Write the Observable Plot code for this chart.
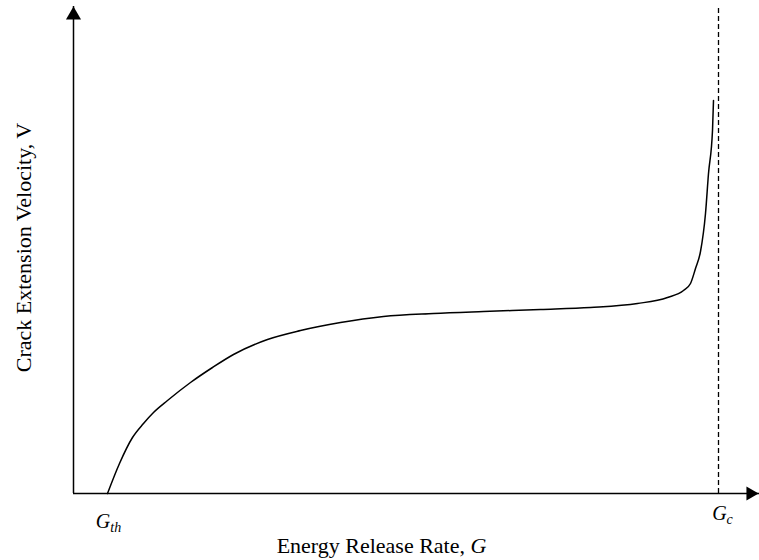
<!DOCTYPE html>
<html><head><meta charset="utf-8">
<script src="https://cdn.jsdelivr.net/npm/d3@7"></script>
<script src="https://cdn.jsdelivr.net/npm/@observablehq/plot@0.6"></script>
<style>body{margin:0;background:#fff;} svg{display:block;}</style>
</head><body><div id="chart"></div>
<script>
// Curve: energy release rate G (arbitrary units) vs crack extension velocity V (arbitrary units)
const G = [34, 46, 59, 70, 80, 94, 117, 139, 160, 194, 227, 267, 310, 360, 410, 467, 517, 564, 594, 610, 617, 622, 627, 632, 635, 639, 640];
const V = [0, 30, 56, 70, 81, 93, 111, 126, 139, 154, 163, 171, 177, 180, 182, 184, 186, 190, 196, 203, 210, 225, 242, 280, 320, 363, 393];
const Gth = 34;
const Gc = 645;
const xMax = 686;
const yMax = 487;
const dashTop = 485;
const xLabel = ["Energy Release Rate, ", "G"];
const yLabel = "Crack Extension Velocity, V";
const tickMain = ["G", "G"];
const tickSub = ["th", "c"];

const data = G.map((g, i) => ({G: g, V: V[i]}));
const serif = "'Liberation Serif','Times New Roman',Times,serif";

const svg = Plot.plot({
  width: 759, height: 560,
  marginLeft: 73, marginRight: 0, marginTop: 6, marginBottom: 67,
  x: {domain: [0, xMax], axis: null},
  y: {domain: [0, yMax], axis: null},
  style: {fontFamily: serif, background: "#fff", color: "#000"},
  marks: [
    Plot.ruleX([0], {y1: 0, y2: yMax, stroke: "#000", strokeWidth: 1.5}),
    Plot.ruleY([0], {x1: 0, x2: xMax, stroke: "#000", strokeWidth: 1.5}),
    Plot.dot([{x: 0, y: yMax}], {x: "x", y: "y", symbol: "triangle", r: 5.6, fill: "#000", dy: 8.7}),
    Plot.dot([{x: xMax, y: 0}], {x: "x", y: "y", symbol: "triangle", r: 5.2, fill: "#000", rotate: 90, dx: -9}),
    Plot.ruleX([Gc], {y1: 0, y2: dashTop, stroke: "#000", strokeWidth: 1.3, strokeDasharray: "5,3"}),
    Plot.line(data, {x: "G", y: "V", curve: "monotone-x", stroke: "#000", strokeWidth: 1.5}),
    Plot.text([yLabel], {text: d => d, frameAnchor: "left", textAnchor: "middle", lineAnchor: "middle", rotate: -90, dx: -50, dy: -2.5, fontSize: 22, fill: "#000"}),
    Plot.text([xLabel.join("")], {text: d => d, frameAnchor: "bottom", textAnchor: "middle", lineAnchor: "bottom", dx: -35, dy: 59, fontSize: 22, fill: "#000"}),
    Plot.text([Gth], {x: d => d, text: () => tickMain[0] + tickSub[0], frameAnchor: "bottom", textAnchor: "middle", lineAnchor: "bottom", dx: 1, dy: 34, fontSize: 20, fill: "#000"}),
    Plot.text([Gc], {x: d => d, text: () => tickMain[1] + tickSub[1], frameAnchor: "bottom", textAnchor: "middle", lineAnchor: "bottom", dx: 4, dy: 26, fontSize: 20, fill: "#000"})
  ]
});

// Italic and subscript styling
d3.select(svg).selectAll("text").each(function() {
  const t = d3.select(this);
  const s = this.textContent;
  if (s === xLabel.join("")) {
    t.text(null);
    t.append("tspan").text(xLabel[0]);
    t.append("tspan").attr("font-style", "italic").text(xLabel[1]);
  } else {
    for (let i = 0; i < tickMain.length; i++) {
      if (s === tickMain[i] + tickSub[i]) {
        t.text(null);
        t.append("tspan").attr("font-style", "italic").text(tickMain[i]);
        t.append("tspan").attr("font-style", "italic").attr("font-size", 14).attr("dy", 4).text(tickSub[i]);
      }
    }
  }
});

document.getElementById("chart").appendChild(svg);
</script>
</body></html>
